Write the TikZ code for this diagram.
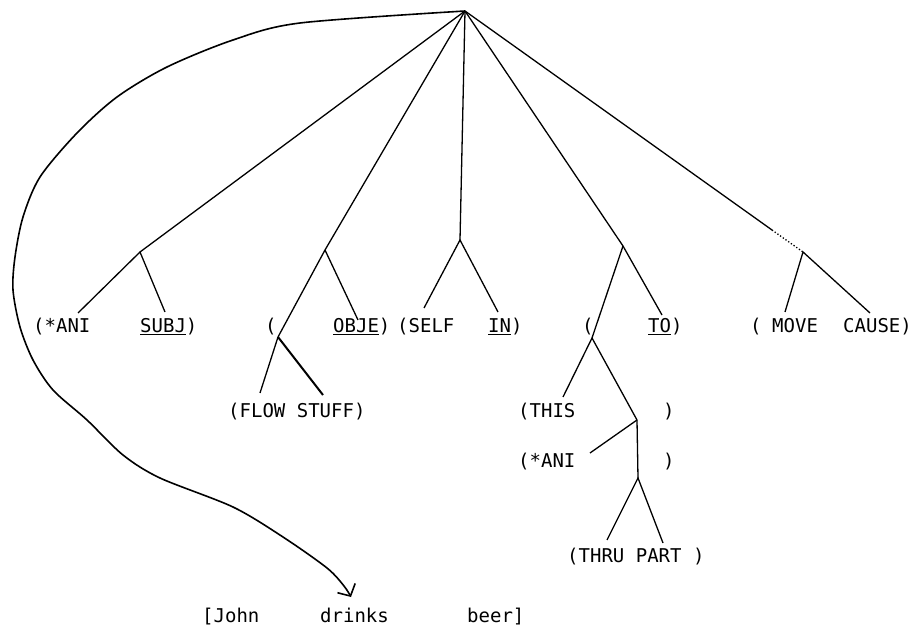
\documentclass[tikz,border=0pt]{standalone}
\usepackage{fontspec}
\setmonofont{DejaVu Sans Mono}
\usepackage{tikz}
\usetikzlibrary{arrows.meta}

\begin{document}
\begin{tikzpicture}[x=1pt,y=-1pt,
        lbl/.style={anchor=base west,inner sep=0pt,font=\ttfamily\fontsize{19}{22}\selectfont},
        ramo/.style={line width=1.3pt}]
            \useasboundingbox (0,0) rectangle (913,628);

            % Radice e nodi interni
            \coordinate (root) at (465,11);
            \coordinate (a1) at (140,252);
            \coordinate (b1) at (325,250);
            \coordinate (b2) at (278,337);
            \coordinate (c1) at (460,240);
            \coordinate (d1) at (623,246);
            \coordinate (d2) at (592,338);
            \coordinate (d3) at (637,420);
            \coordinate (d4) at (638,478);
            \coordinate (e0) at (772,230);
            \coordinate (e1) at (803,252);

            % Etichette
            \node[lbl] (ani) at (33,333) {(*ANI};
            \node[lbl] (subj) at (140,333) {\underline{SUBJ})};
            \node[lbl] (opb) at (265,333) {(};
            \node[lbl] (obje) at (333,333) {\underline{OBJE})};
            \node[lbl] (self) at (397,333) {(SELF};
            \node[lbl] (in) at (488,333) {\underline{IN})};
            \node[lbl] (opd) at (582,333) {(};
            \node[lbl] (to) at (648,333) {\underline{TO})};
            \node[lbl] (ope) at (750,333) {(};
            \node[lbl] (move) at (772,333) {MOVE};
            \node[lbl] (cause) at (843,333) {CAUSE)};

            \node[lbl] (flow) at (228,417) {(FLOW STUFF)};
            \node[lbl] (this) at (518,417) {(THIS};
            \node[lbl] (thisc) at (663,417) {)};
            \node[lbl] (anib) at (518,467) {(*ANI};
            \node[lbl] (anibc) at (663,467) {)};
            \node[lbl] (thru) at (567,562) {(THRU PART )};

            \node[lbl] (john) at (202,622) {[John};
            \node[lbl] (drinks) at (320,622) {drinks};
            \node[lbl] (beer) at (467,622) {beer]};

            % Estremi dei rami
            \coordinate (a1l) at (78,313);
            \coordinate (a1r) at (165,312);
            \coordinate (b1r) at (358,320);
            \coordinate (b2l) at (260,393);
            \coordinate (b2r) at (323,395);
            \coordinate (c1l) at (424,308);
            \coordinate (c1r) at (498,312);
            \coordinate (d1r) at (662,315);
            \coordinate (d2l) at (563,397);
            \coordinate (d3l) at (590,453);
            \coordinate (d4l) at (607,540);
            \coordinate (d4r) at (663,543);
            \coordinate (e1l) at (785,312);
            \coordinate (e1r) at (870,313);
            \coordinate (tip) at (351,597);

            % Rami dalla radice
            \draw[ramo] (root) -- (a1);
            \draw[ramo] (root) -- (b1);
            \draw[ramo] (root) -- (c1);
            \draw[ramo] (root) -- (d1);
            \draw[ramo] (root) -- (e0);
            \draw[ramo, dotted] (e0) -- (e1);

            % Sottoalberi
            \draw[ramo] (a1l) -- (a1) -- (a1r);
            \draw[ramo] (b1) -- (b2);
            \draw[ramo] (b1) -- (b1r);
            \draw[ramo] (b2) -- (b2l);
            \draw[line width=2pt] (b2) -- (b2r);
            \draw[ramo] (c1l) -- (c1) -- (c1r);
            \draw[ramo] (d1) -- (d2);
            \draw[ramo] (d1) -- (d1r);
            \draw[ramo] (d2) -- (d2l);
            \draw[ramo] (d2) -- (d3);
            \draw[ramo] (d3) -- (d3l);
            \draw[ramo] (d3) -- (d4);
            \draw[ramo] (d4l) -- (d4) -- (d4r);
            \draw[ramo] (e1l) -- (e1) -- (e1r);

            % Freccia curva
            \draw[line width=1.6pt, -{Straight Barb[length=9pt,width=20pt]}]
                plot[smooth] coordinates {(root) (300,23) (233,40) (167,67) (117,97) (77,133)
                (40,177) (23,217) (15,257) (13,290) (20,327) (33,360) (53,390) (87,420)
                (123,455) (160,478) (233,507) (283,537) (327,568) (344,586) (tip)};
        \end{tikzpicture}
\end{document}
